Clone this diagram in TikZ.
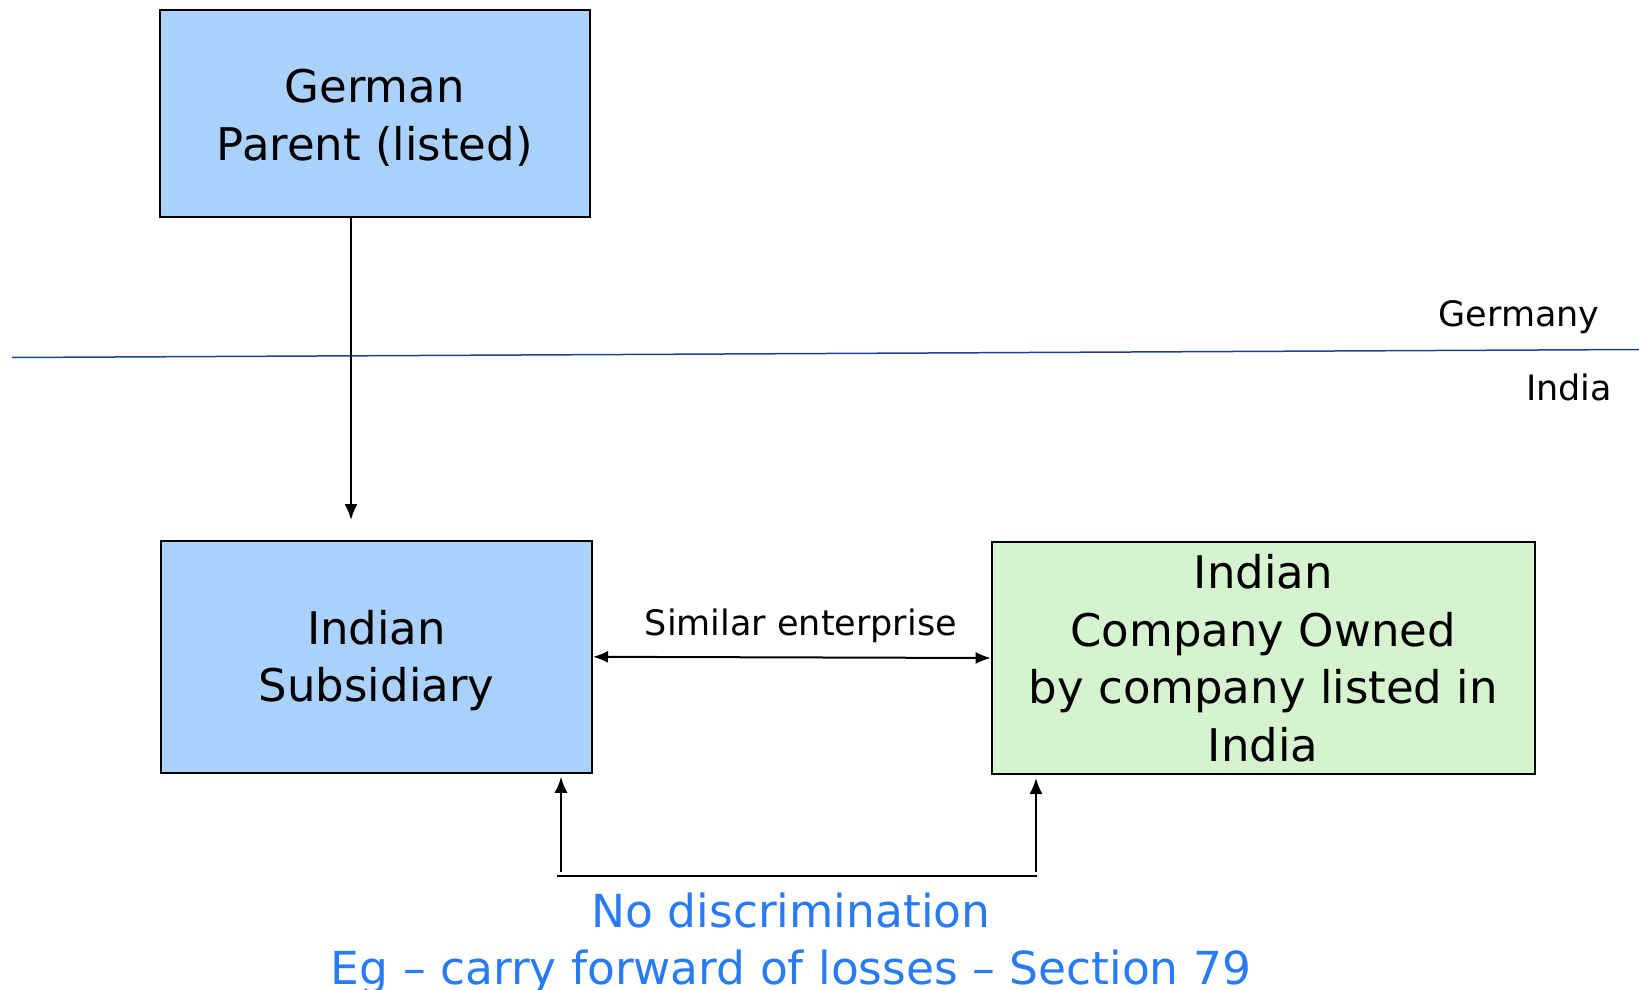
\documentclass[tikz,border=0pt]{standalone}
\usepackage{fontspec}
\setmainfont{DejaVu Sans}
\usetikzlibrary{positioning,arrows.meta}
\definecolor{parentblue}{RGB}{169,209,251}
\definecolor{localgreen}{RGB}{214,243,208}
\definecolor{noteblue}{RGB}{40,122,245}
\definecolor{borderblue}{RGB}{32,64,150}
\tikzset{
    >={Latex[length=16pt,width=13pt]},
    company/.style={
        rectangle,
        draw=black, line width=2pt,
        inner sep=4pt,
        align=center,
        font=\fontsize{45}{57.5}\selectfont
    },
    line/.style={draw, line width=2pt},
    tag/.style={font=\fontsize{35}{42}\selectfont, inner sep=2pt},
    note/.style={
        text=noteblue,
        align=center,
        inner sep=0pt,
        font=\fontsize{45.5}{57}\selectfont
    }
}
\begin{document}
\begin{tikzpicture}[x=1pt,y=-1pt]
    \useasboundingbox (0,0) rectangle (1639,990);

    % the three companies
    \node[company, fill=parentblue, minimum width=430pt, minimum height=207pt] (parent) at (374.8,113.6) {\rule{0pt}{42pt}German\\Parent (listed)};
    \node[company, fill=parentblue, minimum width=431pt, minimum height=232pt] (sub) at (376.5,656.8) {\rule{0pt}{42pt}Indian\\Subsidiary};
    \node[company, fill=localgreen, minimum width=543pt, minimum height=232pt] (local) at (1263.2,658) {Indian\\Company Owned\\by company listed in\\India};

    % border between the two countries
    \coordinate (borderwest) at (12,357.5);
    \coordinate (bordereast) at (1639,349.5);
    \draw[borderblue, line width=1.5pt] (borderwest) -- (bordereast);
    \node[tag] (germany) at (1519,317) {Germany};
    \node[tag] (india) at (1569,387) {India};

    % ownership
    \coordinate (droptip) at (351,520);
    \draw[line, ->] (parent.south -| droptip) -- (droptip);

    % similar enterprise
    \draw[line, <->, >={Latex[length=15pt,width=12pt]}] (sub.east) -- (local.west)
        node[tag, midway, above=12pt, xshift=9pt] (similar) {Similar enterprise};

    % no discrimination
    \coordinate (leftfoot) at (561,872);
    \coordinate (rightfoot) at (1036,872);
    \draw[line] ([xshift=-4pt,yshift=-4pt]leftfoot) -- ([xshift=1pt,yshift=-4pt]rightfoot);
    \draw[line, ->, shorten >=3pt] (leftfoot) -- (leftfoot |- sub.south);
    \draw[line, ->, shorten >=3pt] (rightfoot) -- (rightfoot |- local.south);
    \node[note] (nodisc) at (791,943) {No discrimination\\Eg – carry forward of losses – Section 79};
\end{tikzpicture}
\end{document}
